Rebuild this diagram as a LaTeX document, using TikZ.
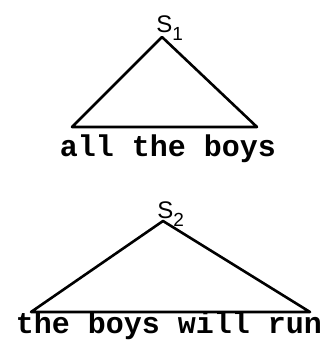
\documentclass[tikz,border=0pt]{standalone}
\usepackage{fontspec}
\setmainfont{Liberation Sans}
\setmonofont{Liberation Mono}
\tikzset{
  words/.style={anchor=base,inner sep=0pt,font=\fontsize{30bp}{36bp}\selectfont\ttfamily\bfseries},
  root/.style={anchor=base west,inner sep=0pt,font=\fontsize{24bp}{26bp}\selectfont},
}
\newcommand{\rootlabel}[1]{S\raisebox{-8bp}{\fontsize{19bp}{20bp}\selectfont #1}}
\begin{document}
\begin{tikzpicture}[x=1bp,y=1bp,line width=2.6bp,line join=round]
  \useasboundingbox (0,0) rectangle (331,350);

  % upper tree
  \coordinate (top1) at (162,313);
  \coordinate (left1) at (72,223);
  \coordinate (right1) at (257,223);
  \node[root] (s1) at (155,318) {\rootlabel{1}};
  \node[words] (words1) at (168,194) {all the boys};
  \draw (top1) -- (left1) -- (right1) -- cycle;

  % lower tree
  \coordinate (top2) at (163,129);
  \coordinate (left2) at (31,38);
  \coordinate (right2) at (310,38);
  \node[root] (s2) at (156,132) {\rootlabel{2}};
  \node[words] (words2) at (169,17) {the boys will run};
  \draw (top2) -- (left2) -- (right2) -- cycle;
\end{tikzpicture}
\end{document}
